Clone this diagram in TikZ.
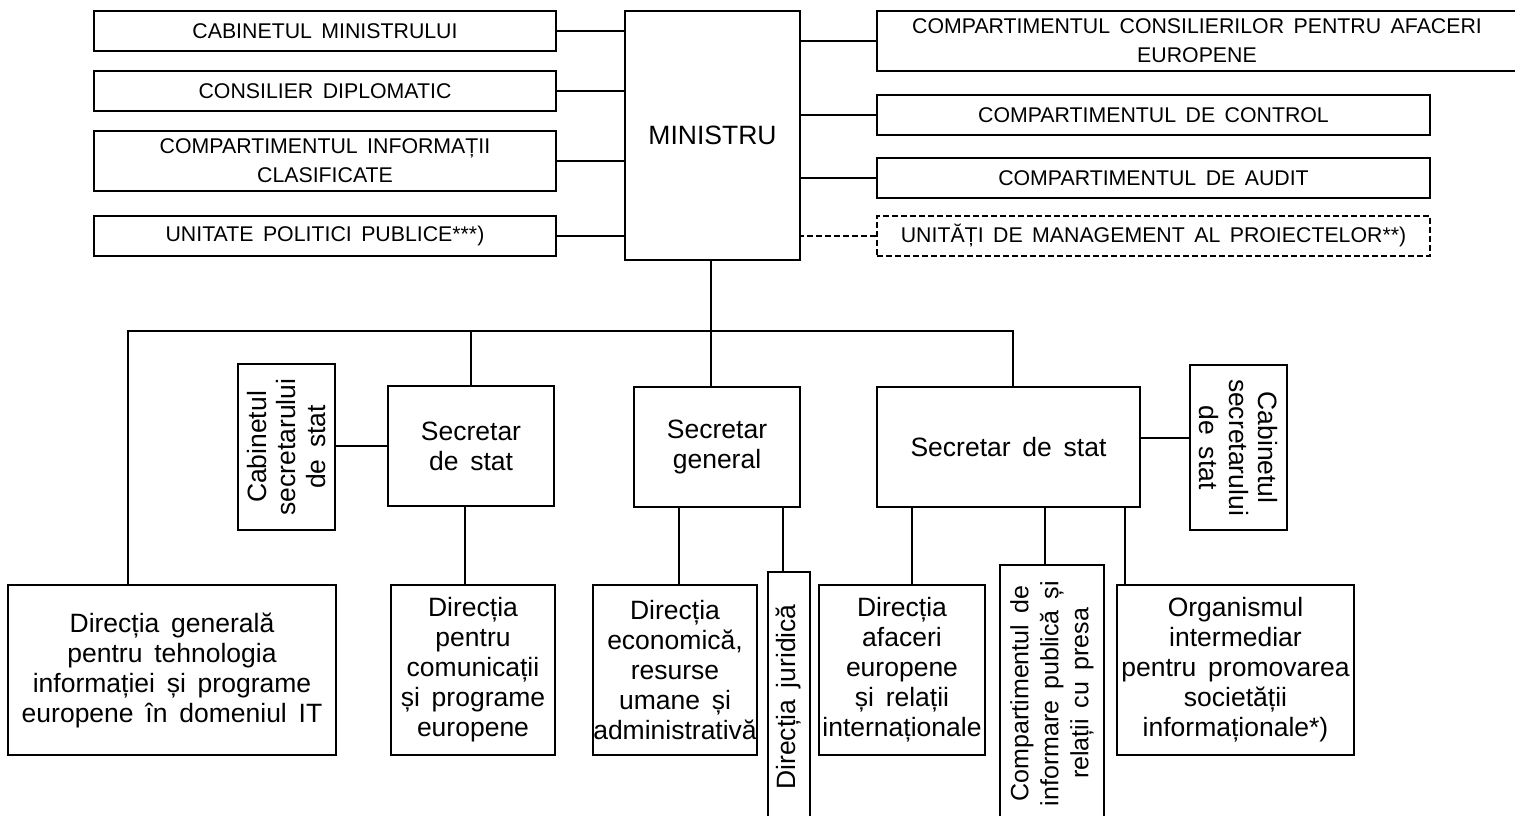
\documentclass[tikz,border=0pt]{standalone}
\usepackage{fontspec}
\setmainfont[WordSpace=1.6]{Liberation Sans}
\begin{document}
\begin{tikzpicture}[x=1pt,y=-1pt,line width=2pt,
        box/.style={draw,inner sep=0pt,align=center},
        sz/.style 2 args={minimum width=#1pt,minimum height=#2pt},
        up/.style={font=\fontsize{21.3}{29}\selectfont},
        low/.style={font=\fontsize{26.5}{30}\selectfont},
        side/.style={font=\fontsize{26.5}{29.5}\selectfont},
        dsh/.style={dash pattern=on 6pt off 3pt,line width=1.6pt}]
       \useasboundingbox(0,0)rectangle(1515,816);
       \clip(0,0)rectangle(1515,816);
       \node[box,up,sz={462}{40}](cab)at(325,31){CABINETUL MINISTRULUI};
       \node[box,up,sz={462}{40}](dipl)at(325,91){CONSILIER DIPLOMATIC};
       \node[box,up,sz={462}{60}](info)at(325,161){COMPARTIMENTUL INFORMAȚII\\CLASIFICATE};
       \node[box,up,sz={462}{40}](upp)at(325,236){UNITATE POLITICI PUBLICE***)};
       \node[box,low,sz={175}{249}](min)at(712.5,135.5){MINISTRU};
       \node[box,up,sz={640}{60}](cae)at(1197,41){COMPARTIMENTUL CONSILIERILOR PENTRU AFACERI\\EUROPENE};
       \node[box,up,sz={553}{40}](ctrl)at(1153.5,115){COMPARTIMENTUL DE CONTROL};
       \node[box,up,sz={553}{40}](aud)at(1153.5,178){COMPARTIMENTUL DE AUDIT};
       \node[box,up,dsh,sz={553}{40}](ump)at(1153.5,236){UNITĂȚI DE MANAGEMENT AL PROIECTELOR**)};
       \foreach \n in {cab,dipl,info,upp}
         \draw(\n.east)--(\n.east-|min.west);
       \foreach \n in {cae,ctrl,aud}
         \draw(\n.west)--(\n.west-|min.east);
       \draw[dsh](ump.west)--(ump.west-|min.east);
       % secretari
       \node[box,low,sz={166}{120}](ss1)at(471,446){Secretar\\de stat};
       \node[box,side,rotate=90,sz={166}{97}](cs1)at(286.5,447){Cabinetul\\secretarului\\de stat};
       \node[box,low,sz={166}{120}](sg)at(717,447){Secretar\\general};
       \node[box,low,sz={263}{120}](ss2)at(1008.5,447){Secretar de stat};
       \node[box,side,rotate=-90,sz={165}{97}](cs2)at(1238.5,447.5){Cabinetul\\secretarului\\de stat};
       \coordinate(bus)at(711,331);
       \draw(min.south-|bus)--(bus);
       \draw(bus)--(bus|-sg.north);
       \draw(ss1.north)--(ss1.north|-bus);
       \draw(ss1.west)--(ss1.west-|cs1.south);
       \draw([yshift=9pt]ss2.east)--([yshift=9pt]ss2.east-|cs2.south);
       % directii
       \node[box,low,sz={328}{170}](dg)at(172,670){Direcția generală\\pentru tehnologia\\informației și programe\\europene în domeniul IT};
       \node[box,low,sz={164}{170}](dpc)at(473,670){Direcția\\pentru\\comunicații\\și programe\\europene};
       \node[box,low,sz={162}{170}](dec)at(675,670){Direcția\\economică,\\resurse\\umane și\\administrativă};
       \node[box,low,rotate=90,sz={250}{42}](dj)at(789,697){Direcția juridică};
       \node[box,low,sz={166}{170}](daf)at(902,670){Direcția\\afaceri\\europene\\și relații\\internaționale};
       \node[box,font=\fontsize{25}{30}\selectfont,rotate=90,sz={257}{104}](cip)at(1052,693.5){Compartimentul de\\informare publică și\\relații cu presa};
       \node[box,low,sz={237}{170}](org)at(1235.5,670){Organismul\\intermediar\\pentru promovarea\\societății\\informaționale*)};
       \draw([xshift=-44pt]dg.north)|-(bus)-|([xshift=4.5pt]ss2.north);
       \draw([xshift=-8pt]dpc.north)--([xshift=-8pt]dpc.north|-ss1.south);
       \draw([xshift=4pt]dec.north)--([xshift=4pt]dec.north|-sg.south);
       \draw([xshift=-6pt]dj.east)--([xshift=-6pt]dj.east|-sg.south);
       \draw([xshift=10pt]daf.north)--([xshift=10pt]daf.north|-ss2.south);
       \draw([xshift=-7pt]cip.east)--([xshift=-7pt]cip.east|-ss2.south);
       \draw([xshift=9pt]org.north west)--([xshift=9pt]org.north west|-ss2.south);
    \end{tikzpicture}
\end{document}
